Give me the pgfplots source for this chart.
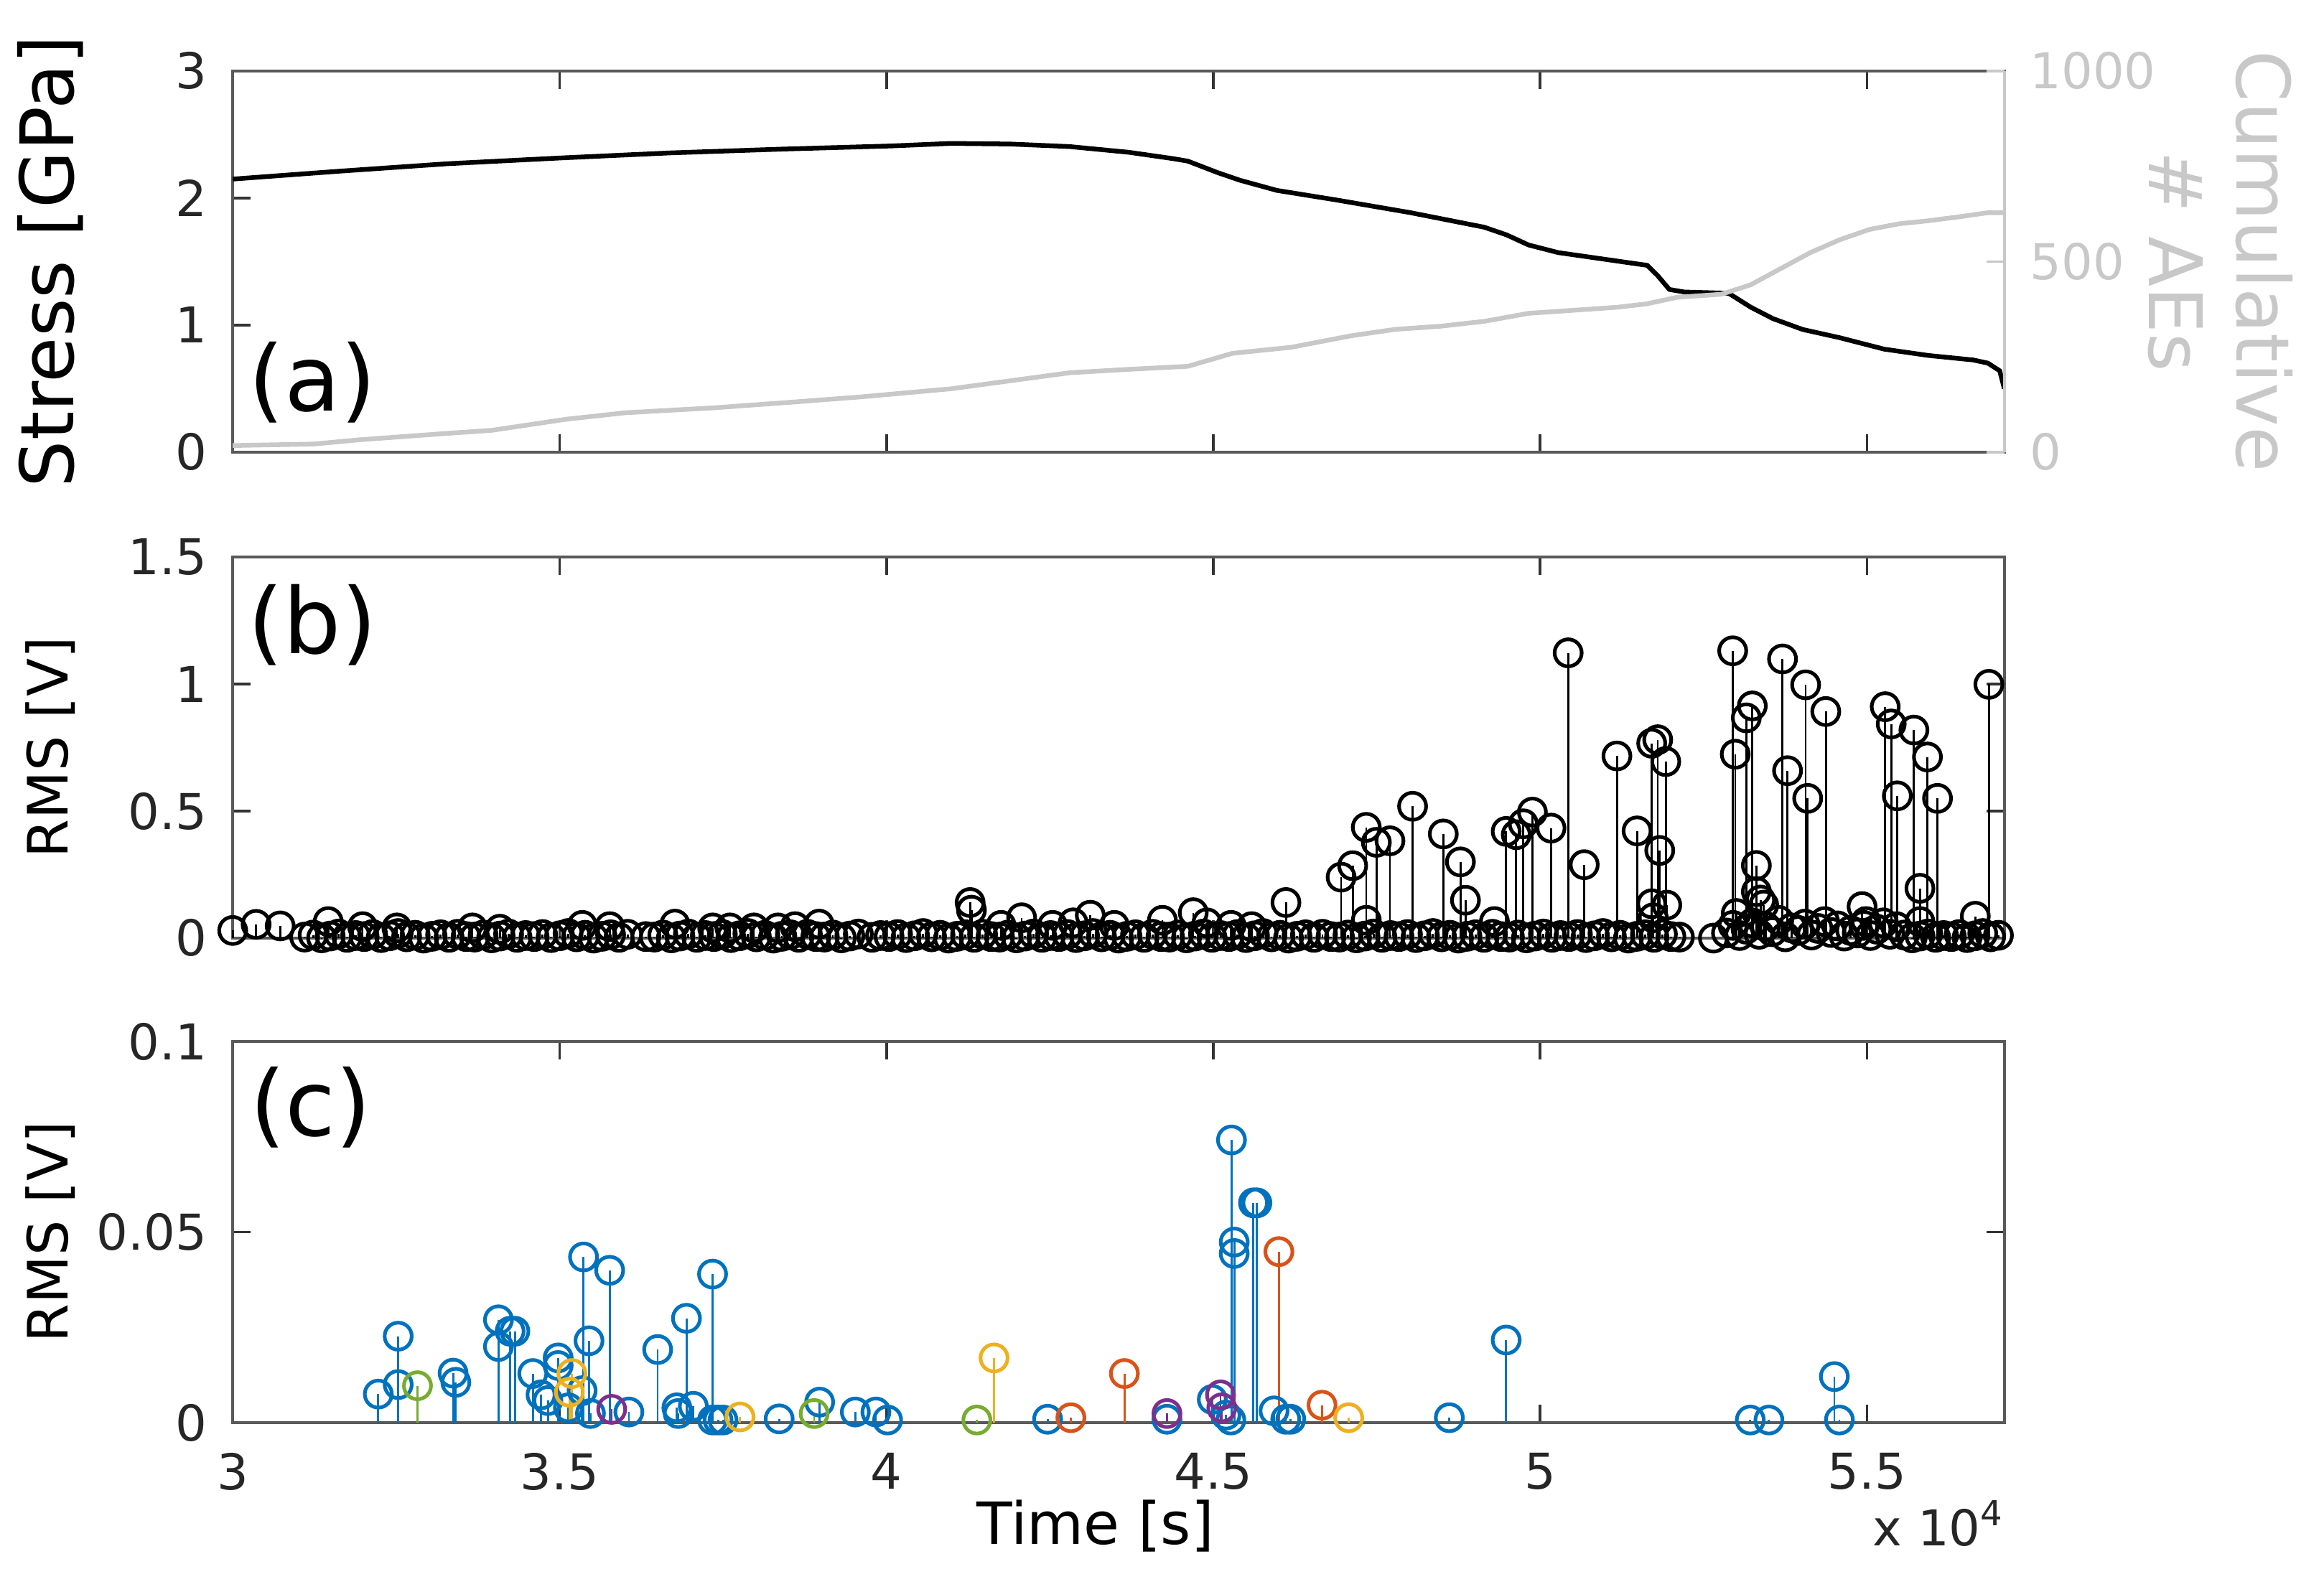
\documentclass[border=0pt]{standalone}
\usepackage{fontspec}
\setmainfont{DejaVu Sans}
\usepackage{pgfplots}
\usepackage{pgfplotstable}
\pgfplotsset{compat=1.18}
\usetikzlibrary{calc}

\definecolor{mblue}{RGB}{0,114,189}
\definecolor{morange}{RGB}{217,83,25}
\definecolor{myellow}{RGB}{237,177,32}
\definecolor{mpurple}{RGB}{126,47,142}
\definecolor{mgreen}{RGB}{119,172,48}
\definecolor{cgray}{RGB}{200,200,200}

% stress [GPa] vs time [s]
\pgfplotstableread{
t s
30000 2.149
31600 2.21
33285 2.27
35000 2.315
36683 2.355
38400 2.385
40082 2.41
40988 2.43
41895 2.425
42801 2.405
43707 2.36
44386 2.31
44613 2.29
45066 2.20
45406 2.14
45972 2.06
46879 1.985
48012 1.885
49145 1.77
49484 1.71
49824 1.63
50277 1.57
50957 1.52
51637 1.47
51795 1.39
51976 1.28
52203 1.26
52883 1.25
53222 1.14
53562 1.05
54015 0.965
54582 0.90
55262 0.81
55942 0.76
56621 0.725
56848 0.70
57029 0.64
57100 0.50
}\stress

% cumulative number of AEs
\pgfplotstableread{
t n
30000 17
31246 21
31926 32
33285 49
33965 57
35097 86
36004 103
37363 116
38722 133
39628 145
40988 166
41894 187
42800 208
43706 217
44612 225
45292 259
46198 275
47104 305
47784 322
48464 330
49143 343
49823 364
50503 372
51182 380
51636 389
52089 406
52768 414
53222 439
53675 481
54128 523
54581 557
55034 584
55487 599
55940 607
56393 617
56846 628
57100 628
}\cumul

% RMS of all events (panel b)
\pgfplotstableread{
t v
30000 .030
30358 .054
30726 .048
31100 .004
31230 .012
31360 .001
31461 .065
31490 .008
31620 .016
31750 .003
31880 .010
31986 .045
32010 .006
32140 .014
32270 .002
32400 .009
32511 .040
32530 .018
32660 .005
32790 .011
32920 .000
33050 .007
33180 .013
33310 .003
33440 .015
33570 .006
33666 .040
33700 .004
33830 .012
33960 .001
34086 .035
34090 .008
34220 .016
34350 .003
34480 .010
34610 .006
34740 .014
34870 .002
35000 .009
35130 .018
35260 .005
35347 .050
35390 .011
35520 .000
35650 .007
35767 .045
35780 .013
35910 .003
36040 .015
36320 .006
36450 .004
36580 .012
36710 .001
36764 .055
36840 .008
36970 .016
37100 .003
37230 .010
37342 .040
37360 .006
37490 .014
37605 .040
37620 .002
37750 .009
37880 .018
37972 .040
38010 .005
38140 .011
38270 .000
38340 .040
38400 .007
38530 .013
38602 .045
38660 .003
38790 .015
38920 .006
38970 .055
39050 .004
39180 .012
39310 .001
39440 .008
39570 .016
39780 .003
39910 .010
40040 .006
40170 .014
40300 .002
40430 .009
40560 .018
40690 .005
40820 .011
40950 .000
41080 .007
41210 .013
41280 .140
41300 .110
41340 .003
41470 .015
41600 .006
41730 .004
41753 .050
41860 .012
41990 .001
42068 .080
42120 .008
42250 .016
42380 .003
42510 .010
42541 .050
42640 .006
42770 .014
42856 .060
42900 .002
43030 .009
43118 .090
43160 .018
43290 .005
43420 .011
43486 .050
43550 .000
43680 .007
43810 .013
43940 .003
44070 .015
44200 .006
44221 .070
44330 .004
44460 .012
44590 .001
44693 .100
44720 .008
44850 .016
44903 .060
44980 .003
45110 .010
45240 .006
45271 .050
45370 .014
45500 .002
45586 .045
45630 .009
45760 .018
45890 .005
46020 .011
46111 .140
46150 .000
46280 .007
46410 .013
46540 .003
46670 .015
46800 .006
46930 .004
46955 .240
47060 .012
47132 .285
47190 .001
47320 .008
47340 .436
47340 .070
47450 .016
47494 .377
47580 .003
47702 .383
47710 .010
47840 .006
47970 .014
48048 .519
48100 .002
48230 .009
48360 .018
48490 .005
48518 .410
48620 .011
48750 .000
48780 .300
48857 .149
48880 .007
49010 .013
49140 .003
49270 .015
49300 .065
49400 .006
49480 .420
49530 .004
49634 .407
49660 .012
49742 .450
49790 .001
49881 .496
49920 .008
50050 .016
50166 .433
50180 .003
50310 .010
50428 1.123
50440 .006
50570 .014
50674 .289
50700 .002
50830 .009
50960 .018
51090 .005
51174 .717
51220 .011
51350 .000
51480 .007
51482 .422
51610 .013
51706 .767
51706 .135
51730 .080
51740 .003
51798 .781
51829 .345
51870 .015
51921 .695
51937 .130
52000 .006
52130 .004
52650 .000
52850 .020
52945 1.131
52950 .050
52984 .724
52999 .097
53050 .010
53150 .035
53153 .867
53245 .914
53250 .060
53307 .286
53307 .183
53350 .015
53370 .150
53420 .130
53450 .045
53550 .025
53650 .070
53707 1.099
53750 .005
53784 .659
53850 .040
53950 .030
54050 .055
54061 .997
54092 .550
54150 .012
54250 .038
54350 .065
54369 .892
54450 .022
54550 .048
54650 .008
54750 .030
54850 .020
54924 .124
54950 .050
54985 .065
55050 .010
55150 .035
55250 .060
55278 .911
55350 .015
55370 .843
55450 .045
55463 .560
55570 .012
55690 .001
55717 .819
55809 .196
55809 .065
55810 .008
55924 .713
55930 .016
56050 .003
56078 .550
56170 .010
56290 .006
56410 .014
56530 .002
56650 .009
56656 .086
56770 .018
56864 .999
56890 .005
57010 .011
}\rmsall

% RMS of clustered events (panel c), one table per class
\pgfplotstableread{
t v
32227 .0075
32531 .0227
32531 .0100
33371 .0130
33413 .0106
34065 .0270
34065 .0200
34243 .0240
34316 .0240
34590 .0129
34716 .0073
34821 .0058
34978 .0170
34978 .0150
35135 .0039
35345 .0084
35366 .0435
35450 .0215
35472 .0024
35766 .0400
36060 .0028
36500 .0192
36794 .0039
36815 .0024
36941 .0274
37046 .0043
37340 .0390
37340 .0007
37424 .0007
37500 .0007
38359 .0010
38978 .0054
39524 .0028
39839 .0028
40018 .0007
42465 .0009
44291 .0009
44984 .0061
45194 .0020
45268 .0007
45278 .0742
45320 .0474
45320 .0444
45614 .0577
45667 .0577
45929 .0031
46108 .0009
46185 .0009
48610 .0013
49480 .0217
53214 .0007
53499 .0007
54500 .0121
54577 .0007
}\cblue
\pgfplotstableread{
t v
42821 .0013
43640 .0129
46003 .0449
46663 .0046
}\corange
\pgfplotstableread{
t v
35150 .0080
35188 .0129
37760 .0015
41646 .0170
47071 .0013
}\cyellow
\pgfplotstableread{
t v
35797 .0035
44291 .0024
45110 .0073
45130 .0039
}\cpurple
\pgfplotstableread{
t v
32826 .0097
38894 .0024
41383 .0007
}\cgreen

\pgfplotsset{
  panel/.style={
    scale only axis, width=11.97cm, height=2.575cm,
    xmin=30000, xmax=57100, scaled x ticks=false,
    xtick={30000,35000,40000,45000,50000,55000},
    tick align=inside, major tick length=0.12cm,
    axis line style={black!65, line width=0.6pt},
    tick style={black!80, line width=0.5pt},
    tick label style={font=\fontsize{9.5}{11}\selectfont, text=black!85},
    yticklabel style={xshift=-0.05cm},
    xticklabel style={yshift=-0.08cm},
  },
  stems/.style={ycomb, mark=o, mark size=2.6pt, line width=0.4pt,
    mark options={line width=0.7pt}},
}

\begin{document}
\begin{tikzpicture}

% (a) stress and cumulative AEs
\begin{axis}[panel, name=a,
  ymin=0, ymax=3, ytick={0,1,2,3}, yticklabels={0,1,2,3},
  xticklabels={}, xtick pos=both, ytick pos=left,
  ylabel={Stress [GPa]},
  ylabel style={at={(axis description cs:-0.103,0.5)}, anchor=center,
    font=\fontsize{14.2}{17}\selectfont},
]
\addplot[black, line width=0.9pt] table[x=t, y=s] {\stress};
\node[font=\fontsize{17.5}{20}\selectfont] at (rel axis cs:0.045,0.182) {(a)};
\end{axis}

\begin{axis}[panel,
  axis x line=none, axis y line*=right,
  ymin=0, ymax=1000, ytick={0,500,1000}, yticklabels={0,500,1000},
  y axis line style={cgray}, ytick style={cgray},
  yticklabel style={text=cgray, xshift=0.1cm},
  ylabel={Cumulative\\\# AEs},
  ylabel style={at={(axis description cs:1.122,0.5)}, anchor=center,
    rotate=180, align=center, text=cgray,
    font=\fontsize{14.2}{16.9}\selectfont},
]
\addplot[cgray, line width=0.9pt] table[x=t, y=n] {\cumul};
\end{axis}

% (b) all events
\begin{axis}[panel, name=b,
  at={($(a.south west)+(0,-0.71cm)$)}, anchor=north west,
  ymin=0, ymax=1.5, ytick={0,0.5,1,1.5}, yticklabels={0,0.5,1,1.5},
  xticklabels={}, xtick pos=both, ytick pos=both, clip=false,
  ylabel={RMS [V]},
  ylabel style={at={(axis description cs:-0.103,0.5)}, anchor=center,
    font=\fontsize{10.7}{13}\selectfont},
]
\addplot[stems, black] table[x=t, y=v] {\rmsall};
\node[font=\fontsize{17.5}{20}\selectfont] at (rel axis cs:0.045,0.821) {(b)};
\end{axis}

% (c) clustered events
\begin{axis}[panel, name=c,
  at={($(b.south west)+(0,-0.70cm)$)}, anchor=north west,
  ymin=0, ymax=0.1, ytick={0,0.05,0.1}, yticklabels={0,0.05,0.1},
  xticklabels={3,3.5,4,4.5,5,5.5}, xtick pos=both, ytick pos=both, clip=false,
  ylabel={RMS [V]},
  ylabel style={at={(axis description cs:-0.103,0.5)}, anchor=center,
    font=\fontsize{10.7}{13}\selectfont},
  xlabel={Time [s]},
  xlabel style={at={(axis description cs:0.487,0)}, anchor=center, yshift=-0.70cm,
    font=\fontsize{11.2}{13}\selectfont},
]
\addplot[stems, mblue] table[x=t, y=v] {\cblue};
\addplot[stems, morange] table[x=t, y=v] {\corange};
\addplot[stems, myellow] table[x=t, y=v] {\cyellow};
\addplot[stems, mpurple] table[x=t, y=v] {\cpurple};
\addplot[stems, mgreen] table[x=t, y=v] {\cgreen};
\node[font=\fontsize{17.5}{20}\selectfont] at (rel axis cs:0.044,0.828) {(c)};
\end{axis}

\node[anchor=east, font=\fontsize{9.5}{11}\selectfont, text=black!85]
  at ($(c.south east)+(0.13cm,-0.68cm)$) {x 10\textsuperscript{4}};

\path ($(a.north west)+(-1.55cm,0.48cm)$) rectangle ($(c.south east)+(2.16cm,-1.11cm)$);
\end{tikzpicture}
\end{document}
